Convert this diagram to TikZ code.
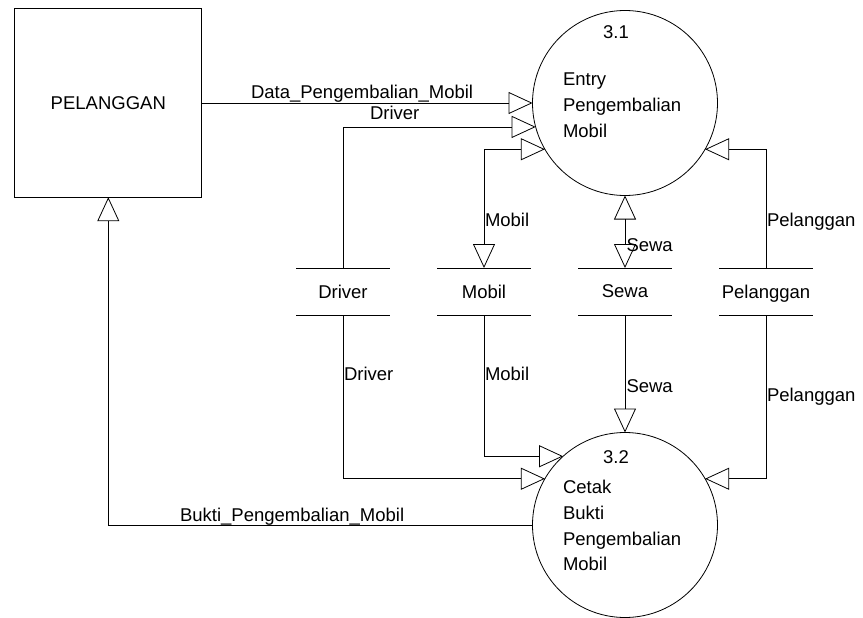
\documentclass[tikz,border=0pt]{standalone}
\usepackage{fontspec}
\setmainfont{Liberation Sans}
\usetikzlibrary{arrows.meta}
\begin{document}
\begin{tikzpicture}[x=1pt,y=-1pt,
  every node/.style={font=\fontsize{18.5}{22}\selectfont, inner sep=0pt, outer sep=0pt},
  tip/.style={Triangle[open,length=24pt,width=22pt]},
  line/.style={draw=black, line width=0.8pt},
  flow/.style={line, -{Triangle[open,length=24pt,width=22pt]}},
  biflow/.style={line, {Triangle[open,length=24pt,width=22pt]}-{Triangle[open,length=24pt,width=22pt]}},
  process/.style={circle, line, minimum size=185pt},
  entity/.style={rectangle, line, minimum width=187pt, minimum height=189pt},
  store/.style={minimum width=94pt, minimum height=47pt, text depth=0pt},
  lbl/.style={anchor=base west},
  ctr/.style={anchor=base}
]
\useasboundingbox (0,0) rectangle (863,618);

% external entity
\node[entity] (pel) at (108.3,102.7) {PELANGGAN};

% processes
\node[process] (c31) at (625,103) {};
\node[ctr]  (n31) at (616,39) {3.1};
\node[lbl]  (t31a) at (563,86) {Entry};
\node[lbl]  (t31b) at (563,111.5) {Pengembalian};
\node[lbl]  (t31c) at (563,137) {Mobil};

\node[process] (c32) at (625,525) {};
\node[ctr]  (n32) at (616,463) {3.2};
\node[lbl]  (t32a) at (563,493) {Cetak};
\node[lbl]  (t32b) at (563,519) {Bukti};
\node[lbl]  (t32c) at (563,545) {Pengembalian};
\node[lbl]  (t32d) at (563,570) {Mobil};

% data stores
\node[store] (sDriver) at (343,291.5) {Driver};
\node[store] (sMobil)  at (484,291.5) {Mobil};
\node[store] (sSewa)   at (625,291.5) {Sewa};
\node[store] (sPel)    at (766,291.5) {Pelanggan};
\foreach \s in {sDriver,sMobil,sSewa,sPel}{
  \draw[line] (\s.north west) -- (\s.north east);
  \draw[line] (\s.south west) -- (\s.south east);
}

% flows into 3.1
\draw[flow] (pel.east |- c31.west) -- (c31.west);
\node[lbl] (l1) at (251,98.3) {Data\_Pengembalian\_Mobil};

\draw[flow] (sDriver.north) |- (c31.195);
\node[lbl] (l2) at (370,120) {Driver};

\draw[biflow] (c31.210) -| (sMobil.north);
\node[lbl] (l3) at (485,226.7) {Mobil};

\draw[biflow] (c31.south) -- (sSewa.north);
\node[lbl] (l4) at (626.5,251.7) {Sewa};

\draw[flow] (sPel.north) |- (c31.330);
\node[lbl] (l5) at (767,226.7) {Pelanggan};

% flows into 3.2
\draw[flow] (sDriver.south) |- (c32.150);
\node[lbl] (l6) at (344,380) {Driver};

\draw[flow] (sMobil.south) |- (c32.132);
\node[lbl] (l7) at (485,380) {Mobil};

\draw[flow] (sSewa.south) -- (c32.north);
\node[lbl] (l8) at (626.5,392) {Sewa};

\draw[flow] (sPel.south) |- (c32.30);
\node[lbl] (l9) at (767,401.5) {Pelanggan};

% output back to the customer
\draw[flow] (c32.west) -| (pel.south);
\node[lbl] (l10) at (180,521.7) {Bukti\_Pengembalian\_Mobil};
\end{tikzpicture}
\end{document}
